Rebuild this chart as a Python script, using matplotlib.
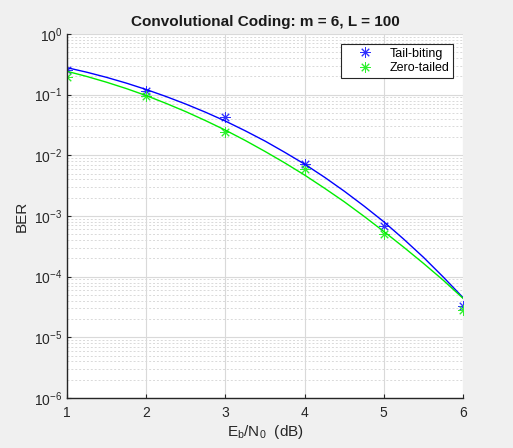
import matplotlib.pyplot as plt
from matplotlib.ticker import LogLocator, NullFormatter

# Eb/N0 points where the simulations were run
ebno = [1, 2, 3, 4, 5, 6]
ber_tail = [0.254, 0.114, 0.043, 0.0071, 6.8e-4, 3.3e-5]
ber_zero = [0.192, 0.096, 0.0243, 0.006, 5.0e-4, 2.85e-5]

ebno_fine = [1, 1.25, 1.5, 1.75, 2, 2.25, 2.5, 2.75, 3, 3.25, 3.5,
             3.75, 4, 4.25, 4.5, 4.75, 5, 5.25, 5.5, 5.75, 6]
bound_tail = [0.2786, 0.2344, 0.1928, 0.1549, 0.1216, 0.0933, 0.0700, 0.0513, 0.0367, 0.0254, 0.0172,
              0.0112, 0.00716, 0.00437, 0.00257, 0.00146, 8.04e-4, 4.17e-4, 2.09e-4, 9.89e-5, 4.52e-5]
bound_zero = [0.2427, 0.1995, 0.1603, 0.1259, 0.0966, 0.0719, 0.0525, 0.0373, 0.0260, 0.0176, 0.0116,
              0.0075, 0.00473, 0.00288, 0.00172, 9.89e-4, 5.56e-4, 3.07e-4, 1.66e-4, 8.75e-5, 4.4e-5]

plt.rcParams['font.family'] = ['Liberation Sans', 'DejaVu Sans']

fig = plt.figure(figsize=(5.13, 4.48), dpi=100)
fig.patch.set_facecolor('#f0f0f0')
ax = fig.add_axes([67 / 513, 1 - 398 / 448, 396 / 513, 364 / 448])
ax.set_facecolor('white')

# MATLAB-style '*' marker: plus and cross overlaid
ast = (8, 2, 0)
ax.semilogy(ebno, ber_tail, linestyle='none', marker=ast, color='#3030ff', markersize=7.5,
            markeredgewidth=0.7, label='Tail-biting')
ax.semilogy(ebno, ber_zero, linestyle='none', marker=ast, color='#30f030', markersize=7.5,
            markeredgewidth=0.7, label='Zero-tailed')
ax.semilogy(ebno_fine, bound_tail, '-', color='#0000ff', linewidth=1)
ax.semilogy(ebno_fine, bound_zero, '-', color='#00ee00', linewidth=1)

ax.set_xlim(1, 6)
ax.set_ylim(1e-6, 1)
ax.yaxis.set_major_locator(LogLocator(base=10, numticks=10))
ax.yaxis.set_minor_locator(LogLocator(base=10, subs=range(2, 10), numticks=20))
ax.yaxis.set_minor_formatter(NullFormatter())

ax.grid(True, which='major', color='#d9d9d9', linewidth=0.8, linestyle='-')
ax.grid(True, which='minor', color='#d9d9d9', linewidth=0.7, linestyle=(0, (2, 2)))
ax.set_axisbelow(True)

for s in ['top', 'right']:
    ax.spines[s].set_visible(False)
for s in ['left', 'bottom']:
    ax.spines[s].set_color('#262626')
    ax.spines[s].set_linewidth(1)

ax.tick_params(which='both', direction='in', colors='#262626', labelsize=10, length=3)
ax.tick_params(which='minor', length=0)
ax.tick_params(axis='x', pad=6)

ax.set_title('Convolutional Coding: m = 6, L = 100', fontsize=11, fontweight='bold', color='#1a1a1a', pad=6)
ax.set_xlabel(r'E$_\mathregular{b}$/N$_\mathregular{0}$  (dB)', fontsize=11, color='#262626', labelpad=2)
ax.set_ylabel('BER', fontsize=11, color='#262626', labelpad=4)

leg = ax.legend(loc='upper right', bbox_to_anchor=(0.976, 0.973), borderaxespad=0, fontsize=9,
                fancybox=False, framealpha=1, edgecolor='#262626', borderpad=0.3,
                handletextpad=0.4, labelspacing=0.2, handlelength=3.2, numpoints=1)
leg.get_frame().set_linewidth(0.8)

fig.savefig('out.png', dpi=100, facecolor=fig.get_facecolor())
